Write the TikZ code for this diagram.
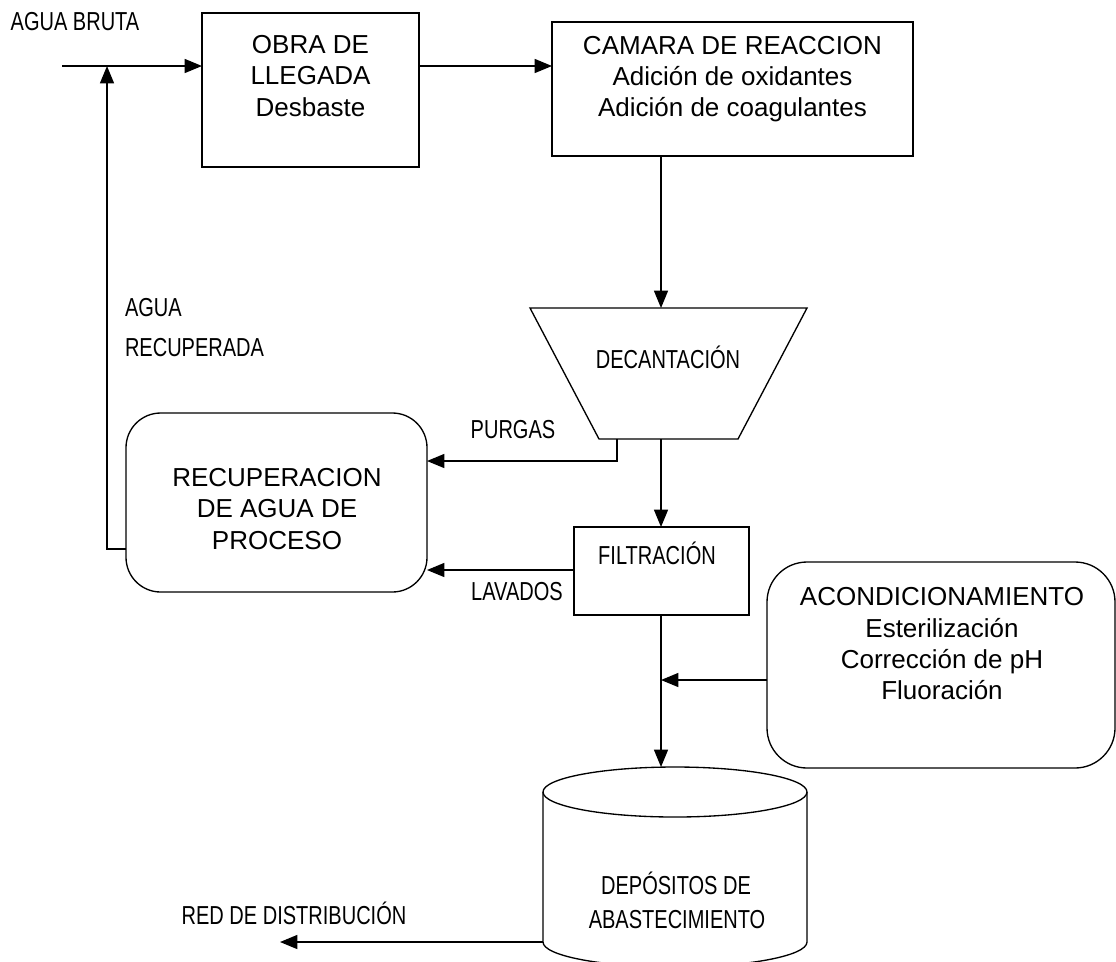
\documentclass[tikz,border=0pt]{standalone}
\usepackage{fontspec}
\setmainfont{Liberation Sans}
\newfontfamily\condfont[FakeStretch=0.77]{Liberation Sans}
\usetikzlibrary{arrows.meta}
\begin{document}
\begin{tikzpicture}[x=0.75pt,y=-0.75pt,
  every node/.style={inner sep=0pt, outer sep=0pt},
  box/.style={draw, line width=1pt, fill=white},
  arr/.style={line width=1pt, -{Triangle[length=13pt,width=10.5pt]}},
  maintxt/.style={align=center, font=\fontsize{19.5}{23.5}\selectfont},
  cond/.style={font=\condfont\fontsize{19.5}{22}\selectfont},
  line/.style={line width=1pt}
]
\useasboundingbox (0,0) rectangle (1116,961);
\clip (0,0) rectangle (1116,961);

% boxes
\node[box, minimum width=162.75pt, minimum height=115.5pt] (obra) at (310.5,90) {};
\node[maintxt] (obratxt) at (310.5,76) {OBRA DE\\LLEGADA\\Desbaste};

\node[box, minimum width=270.75pt, minimum height=100.5pt] (camara) at (732.5,89) {};
\node[maintxt] (camaratxt) at (732.5,79) {CAMARA DE REACCION\\Adición de oxidantes\\Adición de coagulantes};

\coordinate (dTL) at (530,308);
\coordinate (dTR) at (807,308);
\coordinate (dBR) at (738,439);
\coordinate (dBL) at (599,439);
\draw[line] (dTL) -- (dTR) -- (dBR) -- (dBL) -- cycle;
\node[cond] (decanttxt) at (668,357) {DECANTACIÓN};

\node[box, minimum width=131.25pt, minimum height=66pt] (filt) at (661.5,571) {};
\node[cond] (filttxt) at (657,553) {FILTRACIÓN};

\node[box, rounded corners=26pt, minimum width=225.75pt, minimum height=134.25pt] (recup) at (276.5,502.5) {};
\node[maintxt] (recuptxt) at (277,509) {RECUPERACION\\DE AGUA DE\\PROCESO};

\node[box, rounded corners=30pt, minimum width=261pt, minimum height=154.5pt] (acond) at (941,665) {};
\node[maintxt] (acondtxt) at (942,644) {ACONDICIONAMIENTO\\Esterilización\\Corrección de pH\\Fluoración};

% tank
\draw[line, fill=white] (543,792) -- (543,942) arc[start angle=180, end angle=360, x radius=99pt, y radius=18.75pt] -- (807,792);
\draw[line] (675,792) ellipse [x radius=99pt, y radius=18.75pt];
\node[cond] (tank1) at (676,883) {DEPÓSITOS DE};
\node[cond] (tank2) at (677,920) {ABASTECIMIENTO};
\coordinate (tanktop) at (661,767);
\coordinate (tankleft) at (543,942);

% labels
\node[cond] (bruta) at (75,22) {AGUA BRUTA};
\node[cond, anchor=west] (recagua) at (125,308) {AGUA};
\node[cond, anchor=west] (recrec) at (125,348) {RECUPERADA};
\node[cond] (purgas) at (513,430) {PURGAS};
\node[cond] (lavados) at (517,592) {LAVADOS};
\node[cond] (red) at (294,913) {RED DE DISTRIBUCIÓN};

% connectors
\coordinate (in) at (62,66);
\draw[arr] (in) -- (in -| obra.west);
\draw[arr] (obra.east |- in) -- (camara.west |- in);

\coordinate (dtop) at (661,308);
\draw[arr] (dtop |- camara.south) -- (dtop);

\coordinate (dbot) at (661,439);
\draw[arr] (dbot) -- (dbot |- filt.north);

\coordinate (dp) at (617,439);
\coordinate (p2) at (617,461);
\draw[arr] (dp) -- (p2) -- (p2 -| recup.east);

\coordinate (lv) at (574,570);
\draw[arr] (lv) -- (lv -| recup.east);

\coordinate (rc) at (107,549);
\draw[arr] (recup.west |- rc) -- (rc) -- (rc |- in);

\coordinate (fj) at (661,680);
\draw[arr] (acond.west |- fj) -- (fj);
\draw[arr] (fj |- filt.south) -- (tanktop);

\coordinate (redend) at (280,942);
\draw[arr] (tankleft) -- (redend);
\end{tikzpicture}
\end{document}
